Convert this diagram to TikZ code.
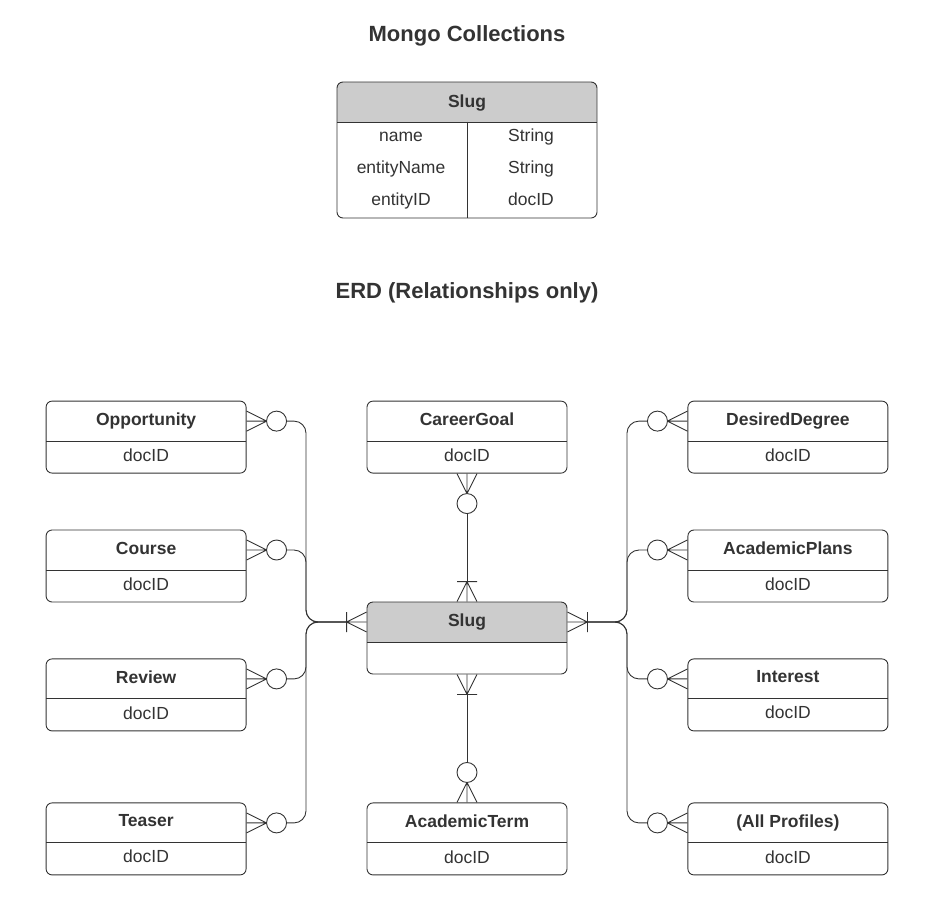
\documentclass[tikz,border=0pt]{standalone}
\usepackage{fontspec}
\setmainfont{Liberation Sans}
\usetikzlibrary{positioning}
\definecolor{ink}{HTML}{333333}
\definecolor{hd}{HTML}{CCCCCC}

\begin{document}
\begin{tikzpicture}[x=1pt, y=1pt, color=ink, line width=0.9pt, font=\fontsize{17.5}{21}\selectfont,
  e/.style={draw, rounded corners=6pt, minimum width=200pt, minimum height=72pt, align=center,
    path picture={\fill[#1, sharp corners] (path picture bounding box.north west) rectangle ([yshift=-40pt]path picture bounding box.north east);
      \draw[sharp corners] ([yshift=-40pt]path picture bounding box.north west) -- ([yshift=-40pt]path picture bounding box.north east);}},
  e/.default=white,
  fd/.style={text height=13pt, text depth=4pt},
  o/.style={circle, draw, fill=white, minimum size=20pt, inner sep=0pt},
  l/.style={rounded corners=12pt},
  t/.style={font=\bfseries\fontsize{22}{26}\selectfont},
  zm/.pic={\draw[line join=round] (0,10) -- (20,0) -- (0,-10) (0,0) -- (20,0); \node[o] (-c) at (30,0) {};},
  om/.pic={\draw[line join=round] (0,10) -- (20,0) -- (0,-10) (0,0) -- (20,0) (20,10) -- (20,-10); \coordinate (-b) at (20,0);}]
  \useasboundingbox (0,0) rectangle (934,-914);

  % collection
  \node[t] (title1) at (467,-36) {Mongo Collections};
  \node[e=hd, minimum width=260pt, minimum height=136pt] (tbl) at (467,-150) {};
  \node[fd] (tbl_h) at ([yshift=-21pt]tbl.north) {\textbf{Slug}};
  \draw ([yshift=-40pt]tbl.north) -- (tbl.south);
  \foreach \f/\ty [count=\i] in {name/String, entityName/String, entityID/docID} {
    \node[fd] (f\i) at (401,-105-32*\i) {\f};
    \node[fd] (ty\i) at (531,-105-32*\i) {\ty};
  }

  % erd
  \node[t] (title2) at (467,-293) {ERD (Relationships only)};
  \node[e=hd] (slug) at (467,-638) {\textbf{Slug}\\[15pt]\phantom{docID}};
  \node[e, above=128pt of slug] (cg) {\textbf{CareerGoal}\\[15pt]docID};
  \node[e, below=128pt of slug] (term) {\textbf{AcademicTerm}\\[15pt]docID};
  \node[e, left=120pt of cg] (opp) {\textbf{Opportunity}\\[15pt]docID};
  \node[e, below=56pt of opp] (crs) {\textbf{Course}\\[15pt]docID};
  \node[e, below=56pt of crs] (rev) {\textbf{Review}\\[15pt]docID};
  \node[e, left=120pt of term] (tsr) {\textbf{Teaser}\\[15pt]docID};
  \node[e, right=120pt of cg] (dd) {\textbf{DesiredDegree}\\[15pt]docID};
  \node[e, below=56pt of dd] (ap) {\textbf{AcademicPlans}\\[15pt]docID};
  \node[e, below=56pt of ap] (int) {\textbf{Interest}\\[15pt]docID};
  \node[e, right=120pt of term] (prof) {\textbf{(All Profiles)}\\[15pt]docID};

  \pic[rotate=180] (sl) at ([yshift=16pt]slug.west) {om};
  \pic (sr) at ([yshift=16pt]slug.east) {om};
  \pic[rotate=90] (st) at (slug.north) {om};
  \pic[rotate=-90] (sb) at (slug.south) {om};
  \coordinate (lj) at (306,-622);
  \coordinate (rj) at (627,-622);

  \foreach \n in {opp,crs,rev,tsr} {
    \pic (z\n) at ([yshift=16pt]\n.east) {zm};
    \draw[l] (z\n-c) -| (lj) -- (sl-b);
  }
  \foreach \n in {dd,ap,int,prof} {
    \pic[rotate=180] (z\n) at ([yshift=16pt]\n.west) {zm};
    \draw[l] (z\n-c) -| (rj) -- (sr-b);
  }
  \pic[rotate=-90] (zcg) at (cg.south) {zm};
  \pic[rotate=90] (zterm) at (term.north) {zm};
  \draw (zcg-c) -- (st-b);
  \draw (sb-b) -- (zterm-c);
\end{tikzpicture}
\end{document}
